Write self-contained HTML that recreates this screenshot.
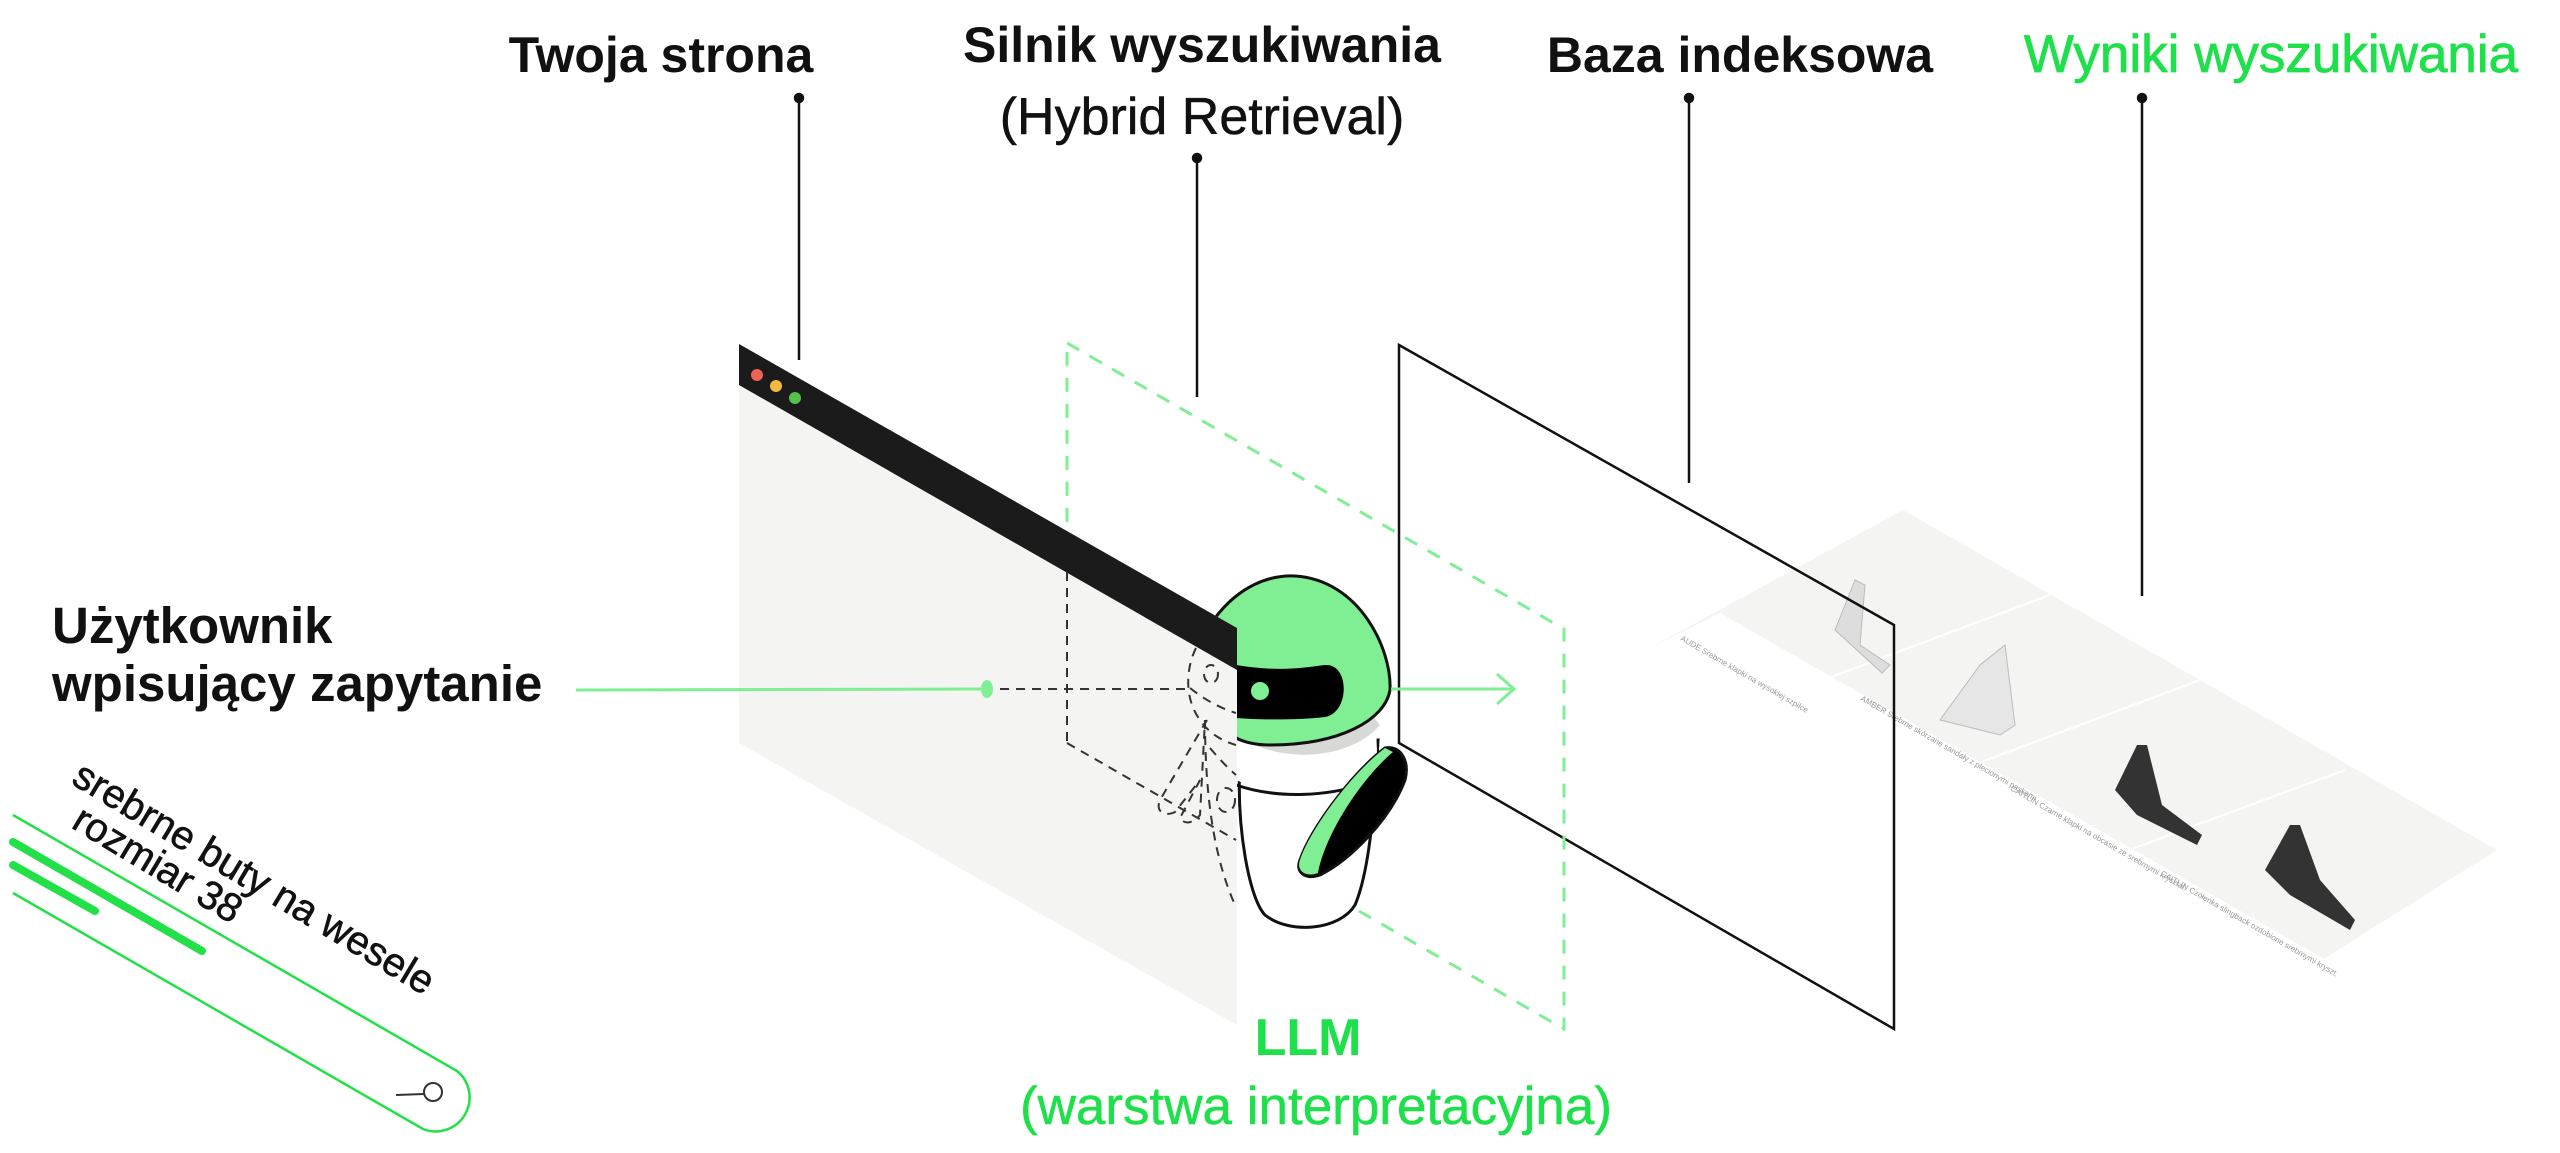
<!DOCTYPE html>
<html><head><meta charset="utf-8"><style>
html,body{margin:0;padding:0;background:#fff;width:2560px;height:1153px;overflow:hidden}
svg{display:block}
text{font-family:"Liberation Sans","DejaVu Sans",sans-serif}
</style></head><body>
<svg width="2560" height="1153" viewBox="0 0 2560 1153" xmlns="http://www.w3.org/2000/svg">
<!-- Titles -->
<g font-size="50" font-weight="bold" fill="#111" text-anchor="middle">
<text x="661" y="72">Twoja strona</text>
<text x="1202" y="62" font-size="50">Silnik wyszukiwania</text>
<text x="1740" y="72">Baza indeksowa</text>
<text x="2271" y="72" fill="#1ee04a" font-weight="normal" font-size="53" stroke="#1ee04a" stroke-width="0.8">Wyniki wyszukiwania</text>
</g>
<text x="1202" y="134" font-size="52" text-anchor="middle" fill="#111" stroke="#111" stroke-width="0.5">(Hybrid Retrieval)</text>
<text x="52" y="643" font-size="51" font-weight="bold" fill="#111">Użytkownik</text>
<text x="52" y="701" font-size="51" font-weight="bold" fill="#111">wpisujący zapytanie</text>
<text x="1308" y="1055" font-size="52" font-weight="bold" text-anchor="middle" fill="#1ee04a">LLM</text>
<text x="1316" y="1124" font-size="53" text-anchor="middle" fill="#1ee04a" stroke="#1ee04a" stroke-width="0.5">(warstwa interpretacyjna)</text>

<!-- leader lines -->
<g stroke="#111" stroke-width="2.5" fill="#111">
<line x1="799" y1="98" x2="799" y2="360"/><circle cx="799" cy="98" r="4"/>
<line x1="1197" y1="158" x2="1197" y2="397"/><circle cx="1197" cy="158" r="4"/>
<line x1="1689" y1="98" x2="1689" y2="483"/><circle cx="1689" cy="98" r="4"/>
<line x1="2142" y1="98" x2="2142" y2="596"/><circle cx="2142" cy="98" r="4"/>
</g>

<!-- results panel -->
<polygon points="1903,510 2497,850 2263,997 1646,650" fill="#f4f4f2"/>
<polygon points="1646,650 1720,613 2340,968 2263,997" fill="#fff"/>
<g stroke="#fff" stroke-width="2">
<line x1="1770" y1="700" x2="2050" y2="595"/>
<line x1="1920" y1="785" x2="2200" y2="680"/>
<line x1="2075" y1="870" x2="2345" y2="770"/>
</g>
<path d="M1835,630 l20,-50 l10,5 l-5,60 l30,20 l-8,8 z" fill="#ddd" stroke="#bbb"/>
<path d="M1940,720 l40,-55 l25,-20 l10,80 l-15,10 z" fill="#e6e6e6" stroke="#bbb"/>
<path d="M2115,790 l22,-45 l10,0 l15,60 l40,30 l-5,10 l-60,-30 z" fill="#333"/>
<path d="M2265,870 l25,-45 l10,0 l20,55 l35,40 l-5,10 l-60,-35 z" fill="#333"/>
<g fill="#999" font-size="8"><text x="1680" y="640" transform="rotate(30 1680 640)">AUDE Srebrne klapki na wysokiej szpilce</text>
<text x="1860" y="700" transform="rotate(30 1860 700)">AMBER Srebrne skórzane sandały z plecionymi paskami</text>
<text x="2010" y="790" transform="rotate(30 2010 790)">CAITLIN Czarne klapki na obcasie ze srebrnymi kryształ.</text>
<text x="2160" y="875" transform="rotate(30 2160 875)">CAITLIN Czółenka slingback ozdobione srebrnymi kryszt.</text></g>

<!-- black plane -->
<polygon points="1399,345 1894,625 1894,1029 1399,743" fill="none" stroke="#111" stroke-width="2.5"/>

<!-- green dashed plane -->
<polygon points="1067,343 1564,629 1564,1029 1067,743" fill="none" stroke="#80ef94" stroke-width="3" stroke-dasharray="14,12"/>

<!-- robot -->
<path d="M1240,760 C1236,830 1250,900 1265,915 C1290,935 1340,930 1355,905 C1370,870 1375,800 1378,740 Z" fill="#fff" stroke="#111" stroke-width="3"/>
<path d="M1236,735 C1260,760 1330,760 1376,725 L1378,780 C1340,800 1280,800 1236,780 Z" fill="#fff"/>
<path d="M1236,785 C1280,800 1330,795 1360,785" fill="none" stroke="#111" stroke-width="3"/>
<path d="M1236,735 C1280,765 1350,760 1380,725 L1360,700 L1236,700 Z" fill="#d8d8d6"/>
<path d="M1215,618 C1240,585 1270,575 1295,576 C1360,580 1392,650 1390,690 C1385,720 1340,745 1270,745 C1250,745 1240,740 1236,738 Z" fill="#80ef94" stroke="#111" stroke-width="3"/>
<path d="M1236,665 C1280,672 1300,668 1325,665 C1350,663 1350,713 1325,717 C1300,720 1260,720 1236,718 Z" fill="#000"/>
<circle cx="1260" cy="691" r="9" fill="#80ef94"/>
<path d="M1300,860 C1310,830 1350,775 1385,748 C1400,745 1410,760 1405,780 C1390,820 1350,860 1320,875 C1305,880 1295,872 1300,860 Z" fill="#000" stroke="#111" stroke-width="3"/>
<path d="M1300,860 C1310,830 1350,775 1385,748 L1393,752 C1360,780 1325,835 1318,873 C1305,878 1296,870 1300,860 Z" fill="#80ef94"/>

<!-- browser panel -->
<polygon points="739,344 1237,628 1237,1025 739,743" fill="#f4f4f2"/>
<polygon points="739,344 1237,628 1237,670 739,385" fill="#1b1b1b"/>
<circle cx="757" cy="375" r="6" fill="#ee6454"/>
<circle cx="776" cy="386" r="6" fill="#f2bb3f"/>
<circle cx="795" cy="398" r="6" fill="#54c24a"/>

<!-- dashed robot outline behind panel -->
<g fill="none" stroke="#333" stroke-width="2" stroke-dasharray="9,7">
<line x1="1067" y1="572" x2="1067" y2="743"/>
<line x1="1067" y1="743" x2="1236" y2="840"/>
<line x1="1000" y1="689" x2="1187" y2="689"/>
<path d="M1196,648 C1185,670 1185,700 1200,720 C1210,735 1225,742 1236,745"/>
<path d="M1190,688 C1205,700 1220,708 1236,713"/>
<path d="M1207,720 L1160,800 C1155,812 1165,817 1175,812 L1200,780 L1180,818 C1185,826 1195,822 1200,815 L1205,720"/>
<path d="M1205,720 C1205,800 1215,860 1235,905"/>
<path d="M1210,748 C1220,760 1230,770 1236,775"/>
<ellipse cx="1211" cy="674" rx="7" ry="9"/>
<ellipse cx="1226" cy="800" rx="9" ry="12"/>
</g>

<!-- input connector -->
<line x1="576" y1="690" x2="986" y2="689" stroke="#80ef94" stroke-width="3"/>
<ellipse cx="987" cy="689" rx="6" ry="9" fill="#80ef94"/>
<line x1="1391" y1="689" x2="1514" y2="689" stroke="#80ef94" stroke-width="3"/>
<polyline points="1497,674 1514,689 1497,704" fill="none" stroke="#80ef94" stroke-width="3"/>

<!-- search bar -->
<g stroke="#22e048" fill="none">
<path d="M13,815 L457,1071 A34,34 0 0 1 423,1129 L13,893" stroke-width="2.5"/>
<line x1="13" y1="842" x2="202" y2="951" stroke-width="8" stroke-linecap="round"/>
<line x1="13" y1="865" x2="95" y2="911" stroke-width="8" stroke-linecap="round"/>
</g>
<g stroke="#333" stroke-width="2" fill="none"><circle cx="433" cy="1092" r="9"/><line x1="424" y1="1094" x2="396" y2="1095"/></g>
<g font-size="40" fill="#111" stroke="#111" stroke-width="0.6">
<text transform="translate(70,783) rotate(31)">srebrne buty na wesele</text>
<text transform="translate(70,827) rotate(31)">rozmiar 38</text>
</g>
</svg>
</body></html>
